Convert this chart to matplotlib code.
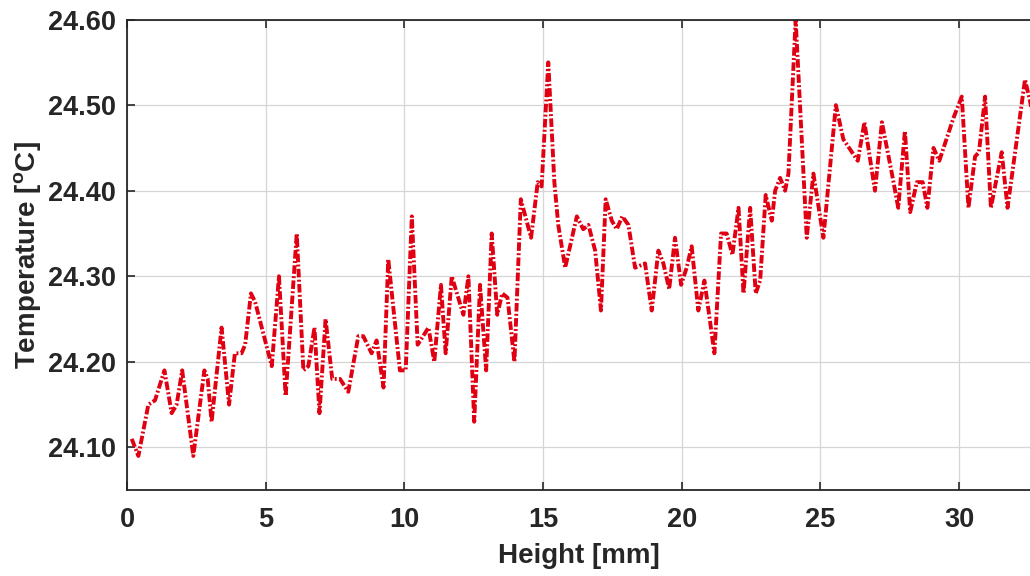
import numpy as np
import matplotlib.pyplot as plt

plt.rcParams['font.family'] = ['Liberation Sans', 'DejaVu Sans']
plt.rcParams['mathtext.fontset'] = 'custom'
plt.rcParams['mathtext.rm'] = 'Liberation Sans'
plt.rcParams['mathtext.bf'] = 'Liberation Sans:bold'

# height along the sample [mm] and measured temperature [degC]
height = [0.17, 0.41, 0.77, 1.01, 1.35, 1.61, 1.79, 1.99, 2.39, 2.79, 2.91, 3.05,
          3.41, 3.68, 3.89, 4.13, 4.26, 4.47, 4.62, 5.22, 5.48, 5.72, 6.12, 6.36,
          6.54, 6.76, 6.94, 7.16, 7.40, 7.68, 7.98, 8.34, 8.52, 8.82, 9.00, 9.25,
          9.42, 9.84, 10.05, 10.27, 10.48, 10.87, 11.08, 11.32, 11.49, 11.71, 12.13,
          12.31, 12.52, 12.73, 12.95, 13.15, 13.35, 13.53, 13.72, 13.97, 14.20,
          14.57, 14.81, 14.95, 15.19, 15.41, 15.55, 15.80, 16.22, 16.45, 16.64,
          16.88, 17.09, 17.26, 17.48, 17.66, 17.86, 18.08, 18.32, 18.68, 18.92,
          19.16, 19.34, 19.55, 19.76, 19.98, 20.18, 20.36, 20.60, 20.82, 21.18,
          21.42, 21.62, 21.83, 22.05, 22.23, 22.47, 22.67, 22.83, 23.03, 23.25,
          23.37, 23.55, 23.73, 23.85, 24.11, 24.51, 24.75, 25.11, 25.56, 25.83,
          26.35, 26.59, 26.97, 27.22, 27.58, 27.81, 28.05, 28.24, 28.48, 28.69,
          28.86, 29.08, 29.29, 29.80, 30.10, 30.34, 30.58, 30.72, 30.94, 31.15,
          31.54, 31.75, 32.38, 32.56, 32.80]
temp = [24.11, 24.09, 24.15, 24.155, 24.19, 24.14, 24.15, 24.19, 24.09, 24.19, 24.18, 24.13,
        24.24, 24.15, 24.21, 24.21, 24.22, 24.28, 24.27, 24.195, 24.30, 24.16, 24.35, 24.19,
        24.195, 24.24, 24.14, 24.25, 24.18, 24.18, 24.165, 24.23, 24.23, 24.21, 24.225, 24.17,
        24.32, 24.19, 24.19, 24.37, 24.22, 24.24, 24.20, 24.29, 24.21, 24.30, 24.255,
        24.30, 24.13, 24.29, 24.19, 24.35, 24.255, 24.28, 24.275, 24.20, 24.39,
        24.345, 24.41, 24.405, 24.55, 24.41, 24.36, 24.31, 24.37, 24.355, 24.36,
        24.33, 24.26, 24.39, 24.365, 24.355, 24.37, 24.36, 24.31, 24.315, 24.26,
        24.33, 24.315, 24.285, 24.345, 24.29, 24.31, 24.335, 24.26, 24.295, 24.21,
        24.35, 24.35, 24.325, 24.38, 24.28, 24.38, 24.28, 24.295, 24.395, 24.365,
        24.40, 24.415, 24.40, 24.42, 24.60, 24.345, 24.42, 24.345, 24.50, 24.46,
        24.435, 24.48, 24.40, 24.48, 24.42, 24.38, 24.47, 24.375, 24.41, 24.41,
        24.38, 24.45, 24.435, 24.485, 24.51, 24.38, 24.44, 24.445, 24.51, 24.38,
        24.445, 24.38, 24.53, 24.505, 24.46]

x_ticks = [0, 5, 10, 15, 20, 25, 30]
y_ticks = [24.10, 24.20, 24.30, 24.40, 24.50, 24.60]

fig = plt.figure(figsize=(10.30, 5.76), dpi=100)
ax = fig.add_axes([0.1233, 0.149, 0.8767, 0.817])

ax.plot(height, temp, color='#e00012', lw=2.8, ls=(0, (2.2, 0.6, 0.5, 0.6)))

ax.set_xlim(0, 32.56)
ax.set_ylim(24.05, 24.60)
ax.set_xticks(x_ticks)
ax.set_yticks(y_ticks)
ax.set_yticklabels(['%.2f' % v for v in y_ticks])
ax.grid(True, color='#d6d6d6', lw=0.9)
ax.set_axisbelow(True)

ax.tick_params(direction='in', length=6, width=1.2, top=True, right=False,
               labelsize=19.5, colors='#262626', pad=8)
ax.tick_params(axis='x', pad=12)
for lab in ax.get_xticklabels() + ax.get_yticklabels():
    lab.set_fontweight('bold')

for side in ['left', 'bottom', 'top']:
    ax.spines[side].set_color('#262626')
    ax.spines[side].set_linewidth(1.3)
ax.spines['right'].set_visible(False)

ax.set_xlabel('Height [mm]', fontsize=20, fontweight='bold', color='#262626', labelpad=7)
ax.set_ylabel(r'Temperature [$^{\mathbf{o}}$C]', fontsize=20, fontweight='bold',
              color='#262626', labelpad=3)

fig.savefig('out.png', dpi=100)
